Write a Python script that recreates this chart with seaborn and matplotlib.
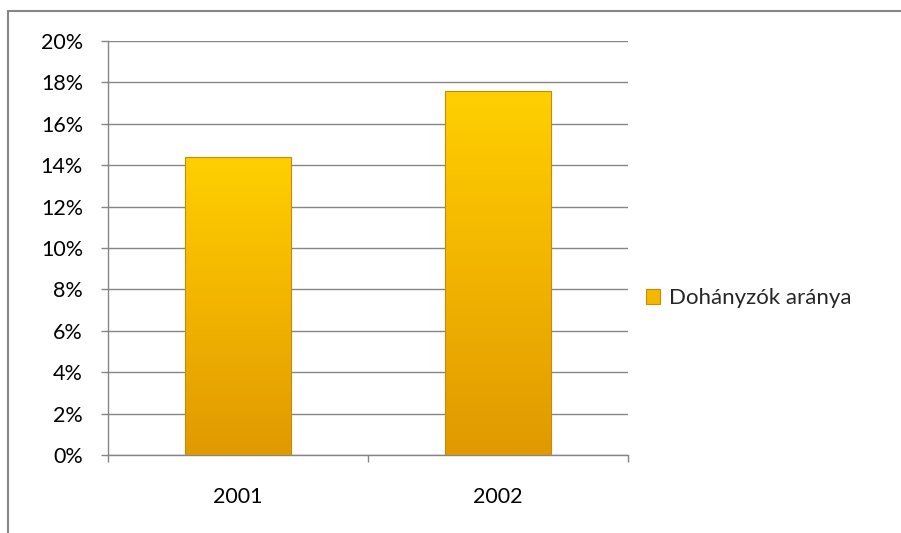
import numpy as np
import matplotlib
matplotlib.use("Agg")
import matplotlib.pyplot as plt
import seaborn as sns
from matplotlib.lines import Line2D
from matplotlib.patches import Patch
from matplotlib.colors import LinearSegmentedColormap
from matplotlib.ticker import PercentFormatter

# data
years = ["2001", "2002"]
smoker_share = [0.144, 0.176]
series_name = "Dohányzók aránya"

sns.set_style("white")
plt.rcParams['font.family'] = ['Lato', 'DejaVu Sans']

fig = plt.figure(figsize=(9.01, 5.33), dpi=100)
ax = fig.add_axes([108/901, 1 - 455/533, 520/901, 414/533])

sns.barplot(x=years, y=smoker_share, color="#F5B800", width=0.41, ax=ax, zorder=3)

# vertical gold gradient on each bar
grad = LinearSegmentedColormap.from_list("gold", ["#E09A00", "#F2B400", "#FFD000"])
img = np.linspace(0, 1, 256).reshape(-1, 1)
for bar in ax.patches:
    x0, y0 = bar.get_x(), bar.get_y()
    w, h = bar.get_width(), bar.get_height()
    im = ax.imshow(img, cmap=grad, origin="lower", aspect="auto",
                   extent=[x0, x0 + w, y0, y0 + h], zorder=3.5)
    im.set_clip_path(bar)
    bar.set_edgecolor("#C98C00")
    bar.set_linewidth(0.8)
    bar.set_zorder(4)
    bar.set_facecolor("none")

ax.set_xlim(-0.5, 1.5)
ax.set_ylim(0, 0.20)
ax.set_yticks(np.arange(0, 0.201, 0.02))
ax.yaxis.set_major_formatter(PercentFormatter(1.0, decimals=0))
ax.grid(axis="y", color="#868686", linewidth=1.0, zorder=0)
ax.set_axisbelow(True)

for side in ["top", "right"]:
    ax.spines[side].set_visible(False)
for side in ["left", "bottom"]:
    ax.spines[side].set_color("#868686")
    ax.spines[side].set_linewidth(1.0)

ax.tick_params(axis="y", left=True, length=5, width=1, color="#868686",
               pad=13, labelsize=15.5, labelcolor="black")
ax.set_xticks([-0.5, 0.5, 1.5], minor=True)
ax.tick_params(axis="x", which="minor", bottom=True, length=5, width=1, color="#868686")
ax.tick_params(axis="x", which="major", bottom=False, length=0, pad=23,
               labelsize=15.5, labelcolor="black")
ax.set_xlabel("")
ax.set_ylabel("")

handle = Patch(facecolor="#F5B800", edgecolor="#C98C00", linewidth=0.8)
fig.legend([handle], [series_name], loc="center left",
           bbox_to_anchor=(626/901, 1 - 298/533), frameon=False,
           fontsize=16, handlelength=0.65, handleheight=0.65, handletextpad=0.4)

# outer chart frame (top and left edge only visible)
fig.add_artist(Line2D([8/901, 1], [1 - 11/533, 1 - 11/533], color="#868686", lw=1.5))
fig.add_artist(Line2D([8/901, 8/901], [0, 1 - 11/533], color="#868686", lw=1.5))

fig.savefig("out.png", dpi=100)
